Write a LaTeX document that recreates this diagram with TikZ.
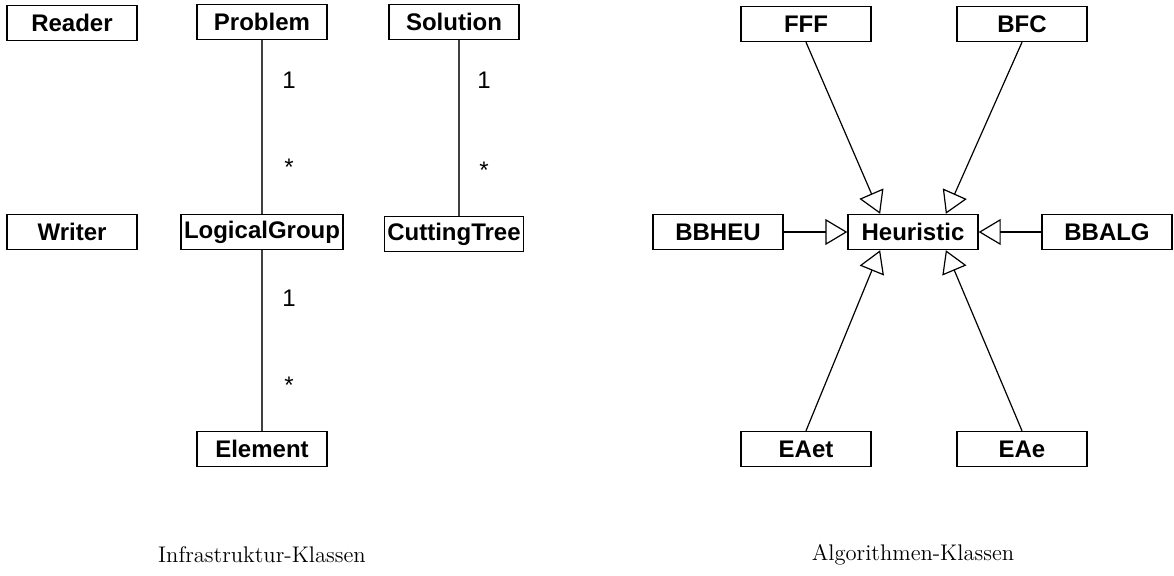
\documentclass[tikz,border=0pt]{standalone}
\usepackage{fontspec}
\setsansfont{Liberation Sans}
\usetikzlibrary{arrows.meta, positioning, calc}

\tikzset{
  klasse/.style={draw, line width=0.7pt, minimum width=65pt, minimum height=17.5pt,
                 inner sep=1.5pt, font=\sffamily\bfseries\fontsize{12}{14}\selectfont},
  mult/.style={font=\sffamily\fontsize{12}{14}\selectfont},
  titel/.style={font=\fontsize{11.3}{13}\selectfont},
  assoc/.style={draw=black!75, line width=0.6pt},
  erbt/.style={draw, line width=0.6pt, -{Triangle[open, length=11pt, width=13pt]}}
}

\begin{document}
\begin{tikzpicture}[x=0.5pt, y=-0.5pt]
\useasboundingbox (0,0) rectangle (1174,575);

% Infrastruktur
\node[klasse] (reader)  at (72,23)   {Reader};
\node[klasse] (writer)  at (72,232)  {Writer};
\node[klasse] (problem) at (262,22)  {Problem};
\node[klasse] (lgroup)  at (262,232) {LogicalGroup};
\node[klasse] (element) at (262,449) {Element};
\node[klasse] (solution) at (454,22) {Solution};
\node[klasse] (ctree)   at (454,234) {CuttingTree};

\draw[assoc] (problem) -- (lgroup);
\draw[assoc] (lgroup) -- (element);
\draw[assoc] (solution.south -| 459,0) -- (ctree.north -| 459,0);

\node[mult] (m1) at (289,80)  {1};
\node[mult] (m2) at (289,167) {*};
\node[mult] (m3) at (289,298) {1};
\node[mult] (m4) at (289,385) {*};
\node[mult] (m5) at (484,80)  {1};
\node[mult] (m6) at (484,170) {*};

% Algorithmen
\node[klasse] (heur)  at (913,232)  {Heuristic};
\node[klasse] (fff)   at (806,24)   {FFF};
\node[klasse] (bfc)   at (1022,24)  {BFC};
\node[klasse] (bbheu) at (718,232)  {BBHEU};
\node[klasse] (bbalg) at (1107,232) {BBALG};
\node[klasse] (eaet)  at (806,449)  {EAet};
\node[klasse] (eae)   at (1022,449) {EAe};

\draw[erbt] (fff.south) -- ($(heur.north)!0.5!(heur.north west)$);
\draw[erbt] (bfc.south) -- ($(heur.north)!0.5!(heur.north east)$);
\draw[erbt] (eaet.north) -- ($(heur.south)!0.5!(heur.south west)$);
\draw[erbt] (eae.north) -- ($(heur.south)!0.5!(heur.south east)$);
\draw[erbt] (bbheu) -- (heur);
\draw[erbt] (bbalg) -- (heur);

% Beschriftung
\node[titel] (infra) at (262,555) {Infrastruktur-Klassen};
\node[titel] (algo)  at (913,555) {Algorithmen-Klassen};
\end{tikzpicture}
\end{document}
